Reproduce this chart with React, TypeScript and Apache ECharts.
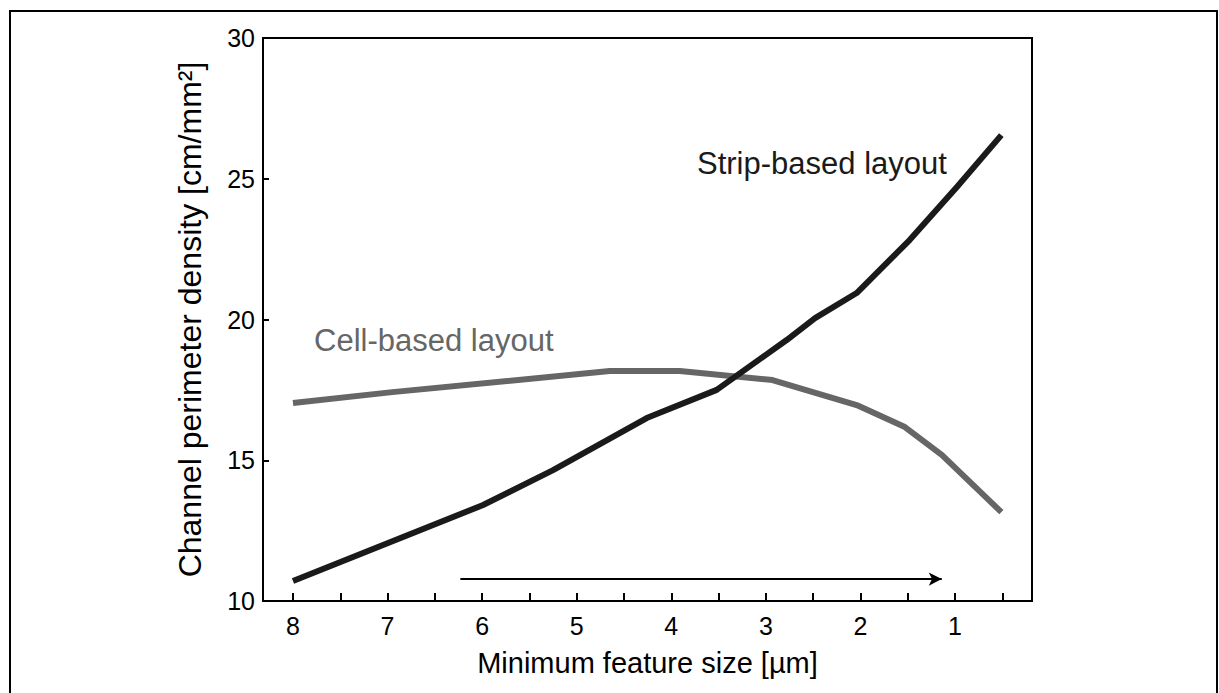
import React, { useEffect, useRef } from "react";
import * as echarts from "echarts";

// Strip-based layout (black)
const stripX = [8.0, 5.99, 5.25, 4.26, 3.52, 2.78, 2.48, 2.04, 1.48, 0.98, 0.51];
const stripY = [10.71, 13.41, 14.65, 16.5, 17.5, 19.27, 20.05, 20.94, 22.82, 24.71, 26.55];

// Cell-based layout (gray)
const cellX = [8.0, 6.95, 4.65, 3.91, 2.93, 2.04, 1.53, 1.14, 0.51];
const cellY = [17.03, 17.42, 18.17, 18.17, 17.85, 16.96, 16.18, 15.19, 13.16];

const xTickValues = [8, 7.5, 7, 6.5, 6, 5.5, 5, 4.5, 4, 3.5, 3, 2.5, 2, 1.5, 1, 0.5];
const xLabelValues = [8, 7, 6, 5, 4, 3, 2, 1];
const arrowFrom = [6.23, 10.78];
const arrowTo = [1.14, 10.78];

const FONT = "'Liberation Sans', Arial, Helvetica, sans-serif";

export default function App() {
  const ref = useRef<HTMLDivElement>(null);
  useEffect(() => {
    if (!ref.current) return;
    const chart = echarts.init(ref.current, null, { renderer: "svg" });
    chart.setOption({
      animation: false,
      backgroundColor: "#ffffff",
      textStyle: { fontFamily: FONT },
      grid: {
        left: 263,
        right: 187,
        top: 38,
        bottom: 92,
        show: true,
        borderColor: "#000",
        borderWidth: 2,
        backgroundColor: "transparent",
      },
      xAxis: {
        type: "value",
        inverse: true,
        min: 0.186,
        max: 8.317,
        name: "Minimum feature size [µm]",
        nameLocation: "middle",
        nameGap: 47,
        nameTextStyle: { fontSize: 29, color: "#000", fontFamily: FONT },
        axisLine: { show: true, onZero: false, lineStyle: { color: "#000", width: 2 } },
        axisTick: {
          show: true,
          inside: true,
          length: 8,
          customValues: xTickValues,
          lineStyle: { color: "#000", width: 2 },
        },
        axisLabel: {
          show: true,
          customValues: xLabelValues,
          fontSize: 25,
          color: "#000",
          margin: 12,
          fontFamily: FONT,
        },
        splitLine: { show: false },
      },
      yAxis: {
        type: "value",
        min: 10,
        max: 30,
        interval: 5,
        name: "Channel perimeter density [cm/mm²]",
        nameLocation: "middle",
        nameGap: 57,
        nameTextStyle: { fontSize: 32, color: "#000", fontFamily: FONT },
        axisLine: { show: true, lineStyle: { color: "#000", width: 2 } },
        axisTick: { show: true, inside: true, length: 6, lineStyle: { color: "#000", width: 2 } },
        axisLabel: { fontSize: 25, color: "#000", margin: 8, fontFamily: FONT },
        splitLine: { show: false },
      },
      graphic: [
        {
          type: "rect",
          shape: { x: 10, y: 11, width: 1207, height: 700 },
          style: { fill: "none", stroke: "#000", lineWidth: 2 },
          silent: true,
        },
        {
          type: "text",
          x: 697,
          y: 163,
          style: {
            text: "Strip-based layout",
            fontSize: 31,
            fontFamily: FONT,
            fill: "#1a1a1a",
            verticalAlign: "middle",
            align: "left",
          },
        },
        {
          type: "text",
          x: 314,
          y: 340,
          style: {
            text: "Cell-based layout",
            fontSize: 31,
            fontFamily: FONT,
            fill: "#666666",
            verticalAlign: "middle",
            align: "left",
          },
        },
      ],
      series: [
        {
          name: "Cell-based layout",
          type: "line",
          data: cellX.map((x, i) => [x, cellY[i]]),
          showSymbol: false,
          symbol: "none",
          lineStyle: { color: "#666666", width: 6, cap: "butt", join: "round" },
          z: 2,
        },
        {
          name: "Strip-based layout",
          type: "line",
          data: stripX.map((x, i) => [x, stripY[i]]),
          showSymbol: false,
          symbol: "none",
          lineStyle: { color: "#1a1a1a", width: 6, cap: "butt", join: "round" },
          z: 3,
          markLine: {
            silent: true,
            symbol: ["none", "arrow"],
            symbolSize: [10, 13],
            label: { show: false },
            lineStyle: { color: "#000", width: 2, type: "solid" },
            data: [[{ coord: arrowFrom }, { coord: arrowTo }]],
          },
        },
      ],
    });
    return () => chart.dispose();
  }, []);
  return (
    <div
      ref={ref}
      style={{ position: "fixed", left: 0, top: 0, width: 1219, height: 693, background: "#fff" }}
    />
  );
}
